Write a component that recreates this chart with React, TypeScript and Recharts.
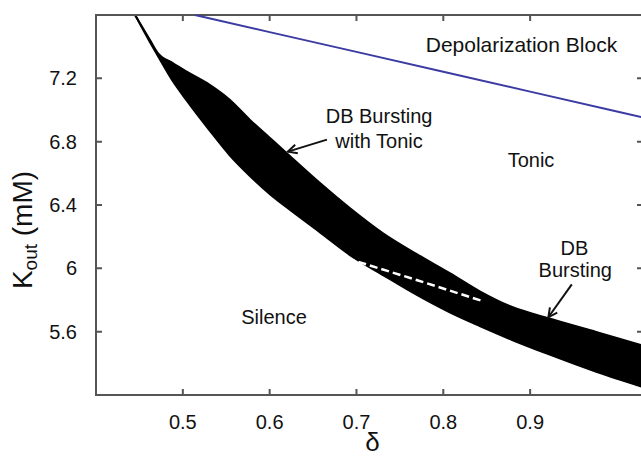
import {
  ComposedChart,
  Area,
  Line,
  XAxis,
  YAxis,
  ReferenceDot,
  ReferenceLine,
  ReferenceArea,
  Label,
} from "recharts";

// δ grid for the bursting band (black region)
const DELTA = [
  0.445, 0.462, 0.471, 0.488, 0.505, 0.531, 0.554, 0.577, 0.6, 0.621,
  0.658, 0.693, 0.731, 0.77, 0.808, 0.842, 0.88, 0.921, 0.977, 1.028,
];
const BAND_UPPER = [
  7.6, 7.443, 7.361, 7.298, 7.241, 7.159, 7.065, 6.939, 6.825, 6.721,
  6.539, 6.378, 6.22, 6.088, 5.968, 5.855, 5.754, 5.685, 5.597, 5.515,
];
const BAND_LOWER = [
  7.6, 7.43, 7.344, 7.186, 7.056, 6.87, 6.714, 6.585, 6.47, 6.379,
  6.227, 6.082, 5.956, 5.83, 5.72, 5.635, 5.546, 5.458, 5.345, 5.254,
];

// depolarization block boundary (blue)
const BLOCK_DELTA = [0.514, 0.6, 0.7, 0.8, 0.9, 1.0, 1.03];
const BLOCK_K = [7.6, 7.492, 7.367, 7.242, 7.116, 6.991, 6.953];

// dashed split inside the band
const SPLIT_DELTA = [0.689, 0.77, 0.846];
const SPLIT_K = [6.063, 5.925, 5.792];

const X_TICKS = [0.5, 0.6, 0.7, 0.8, 0.9];
const Y_TICKS = [5.6, 6, 6.4, 6.8, 7.2];
const X_DOMAIN = [0.4, 1.03];
const Y_DOMAIN = [5.2, 7.6];

const band = DELTA.map((d, i) => ({ d, range: [BAND_LOWER[i], BAND_UPPER[i]] }));
const block = BLOCK_DELTA.map((d, i) => ({ d, k: BLOCK_K[i] }));
const split = SPLIT_DELTA.map((d, i) => ({ d, k: SPLIT_K[i] }));

const TEXT = "#111";
const AXIS = "#555";
const TICK = 6;

// inward tick marks at both ends of a segment spanning the plot
function EndTicks(p: any) {
  const { x1, y1, x2, y2 } = p;
  const vertical = Math.abs(x1 - x2) < 0.5;
  const d = vertical
    ? `M${x1},${Math.min(y1, y2)}v${TICK}M${x1},${Math.max(y1, y2)}v${-TICK}`
    : `M${Math.min(x1, x2)},${y1}h${TICK}M${Math.max(x1, x2)},${y1}h${-TICK}`;
  return <path d={d} stroke={AXIS} strokeWidth={2} fill="none" />;
}

function Arrow(props: any) {
  const { x1, y1, x2, y2 } = props;
  const a = Math.atan2(y2 - y1, x2 - x1);
  const len = 9;
  const w = 4.5;
  const bx = x2 - len * Math.cos(a);
  const by = y2 - len * Math.sin(a);
  const p1 = `${bx + w * Math.sin(a)},${by - w * Math.cos(a)}`;
  const p2 = `${bx - w * Math.sin(a)},${by + w * Math.cos(a)}`;
  return (
    <g>
      <line x1={x1} y1={y1} x2={x2} y2={y2} stroke={TEXT} strokeWidth={2} />
      <polyline points={`${p1} ${x2},${y2} ${p2}`} fill="none" stroke={TEXT} strokeWidth={2} />
    </g>
  );
}

function note(x: number, y: number, text: string, size = 20) {
  return (
    <ReferenceDot
      key={text}
      x={x}
      y={y}
      r={0}
      fill="none"
      stroke="none"
      ifOverflow="visible"
      label={{ value: text, position: "center", fontSize: size, fill: TEXT }}
    />
  );
}

export default function App() {
  return (
    <div
      style={{
        position: "fixed",
        left: 0,
        top: 0,
        width: 641,
        height: 461,
        overflow: "hidden",
        background: "#fff",
        fontFamily: '"Liberation Sans", Arial, sans-serif',
      }}
    >
      <ComposedChart width={700} height={461} margin={{ top: 15, right: 57, bottom: 0, left: 0 }}>
        <XAxis
          type="number"
          dataKey="d"
          domain={X_DOMAIN}
          allowDataOverflow
          ticks={X_TICKS}
          height={66}
          axisLine={false}
          tickLine={false}
          tickMargin={14}
          tick={{ fill: TEXT, fontSize: 20 }}
        >
          <Label
            content={(p: any) => (
              <text
                x={p.viewBox.x + p.viewBox.width / 2 + 3}
                y={p.viewBox.y + 47}
                textAnchor="middle"
                dominantBaseline="central"
                fontSize={26}
                fill={TEXT}
              >
                δ
              </text>
            )}
          />
        </XAxis>
        <YAxis
          type="number"
          domain={Y_DOMAIN}
          allowDataOverflow
          ticks={Y_TICKS}
          width={96}
          axisLine={false}
          tickLine={false}
          tickMargin={13}
          tick={{ fill: TEXT, fontSize: 20 }}
        >
          <Label
            content={() => {
              const cx = 22;
              const cy = 230;
              return (
                <text
                  x={cx}
                  y={cy}
                  transform={`rotate(-90, ${cx}, ${cy})`}
                  textAnchor="middle"
                  dominantBaseline="central"
                  fontSize={28}
                  fill={TEXT}
                >
                  K
                  <tspan dy={8} fontSize={19}>out</tspan>
                  <tspan dy={-8}> (mM)</tspan>
                </text>
              );
            }}
          />
        </YAxis>

        <Area
          data={band}
          dataKey="range"
          type="monotone"
          fill="#000"
          fillOpacity={1}
          stroke="#000"
          strokeWidth={2}
          isAnimationActive={false}
        />
        <Line
          data={split}
          dataKey="k"
          type="linear"
          stroke="#fff"
          strokeWidth={2.5}
          strokeDasharray="8 4"
          dot={false}
          isAnimationActive={false}
        />
        <Line
          data={block}
          dataKey="k"
          type="linear"
          stroke="#3b3ba3"
          strokeWidth={2}
          dot={false}
          isAnimationActive={false}
        />

        {/* plot box and inward ticks */}
        <ReferenceArea
          x1={X_DOMAIN[0]}
          x2={X_DOMAIN[1]}
          y1={Y_DOMAIN[0]}
          y2={Y_DOMAIN[1]}
          fill="none"
          stroke={AXIS}
          strokeWidth={2}
          ifOverflow="visible"
        />
        {X_TICKS.map((t) => (
          <ReferenceLine
            key={`x${t}`}
            segment={[{ x: t, y: Y_DOMAIN[0] }, { x: t, y: Y_DOMAIN[1] }]}
            ifOverflow="visible"
            shape={EndTicks}
          />
        ))}
        {Y_TICKS.map((t) => (
          <ReferenceLine
            key={`y${t}`}
            segment={[{ x: X_DOMAIN[0], y: t }, { x: X_DOMAIN[1], y: t }]}
            ifOverflow="visible"
            shape={EndTicks}
          />
        ))}

        <ReferenceLine
          segment={[{ x: 0.666, y: 6.813 }, { x: 0.621, y: 6.737 }]}
          ifOverflow="visible"
          shape={Arrow}
        />
        <ReferenceLine
          segment={[{ x: 0.948, y: 5.899 }, { x: 0.921, y: 5.691 }]}
          ifOverflow="visible"
          shape={Arrow}
        />

        {note(0.89, 7.411, "Depolarization Block", 21)}
        {note(0.726, 6.964, "DB Bursting")}
        {note(0.726, 6.806, "with Tonic")}
        {note(0.901, 6.687, "Tonic")}
        {note(0.951, 6.132, "DB")}
        {note(0.952, 5.987, "Bursting")}
        {note(0.605, 5.691, "Silence")}
      </ComposedChart>
    </div>
  );
}
